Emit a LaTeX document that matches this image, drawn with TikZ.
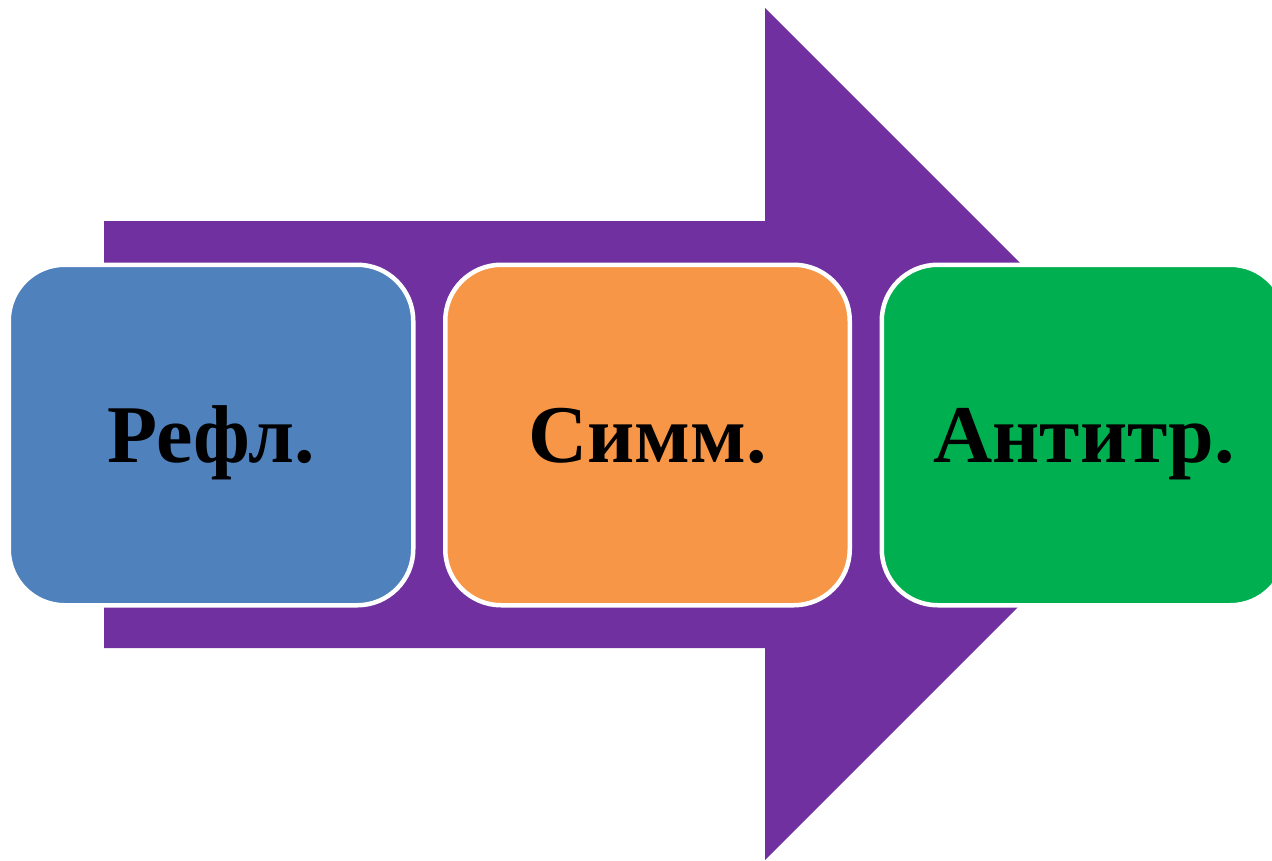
\documentclass[tikz,border=0pt]{standalone}
\usepackage{fontspec}
\setmainfont{Liberation Serif}
\definecolor{arrowpurple}{HTML}{7030A0}
\definecolor{boxblue}{HTML}{4F81BD}
\definecolor{boxorange}{HTML}{F79646}
\definecolor{boxgreen}{HTML}{00B050}
\tikzset{
  stagebox/.style={draw=white, line width=4.5pt, rounded corners=56pt,
    minimum width=404.5pt, minimum height=340.5pt, inner sep=0pt,
    text height=55pt, text depth=0pt,
    font=\fontsize{82}{90}\selectfont\bfseries, text=black}
}
\begin{document}
\begin{tikzpicture}[x=1pt,y=-1pt]
\useasboundingbox (0,0) rectangle (1272,860);
\clip (0,0) rectangle (1272,860);
\fill[arrowpurple] (104,221) -- (765,221) -- (765,8) -- (1191,434) -- (765,860) -- (765,648) -- (104,648) -- cycle;
\node[stagebox, fill=boxblue] (refl) at (211,435) {Рефл.};
\node[stagebox, fill=boxorange] (simm) at (647.5,435) {Симм.};
\node[stagebox, fill=boxgreen] (anti) at (1084,435) {Антитр.};
\end{tikzpicture}
\end{document}
